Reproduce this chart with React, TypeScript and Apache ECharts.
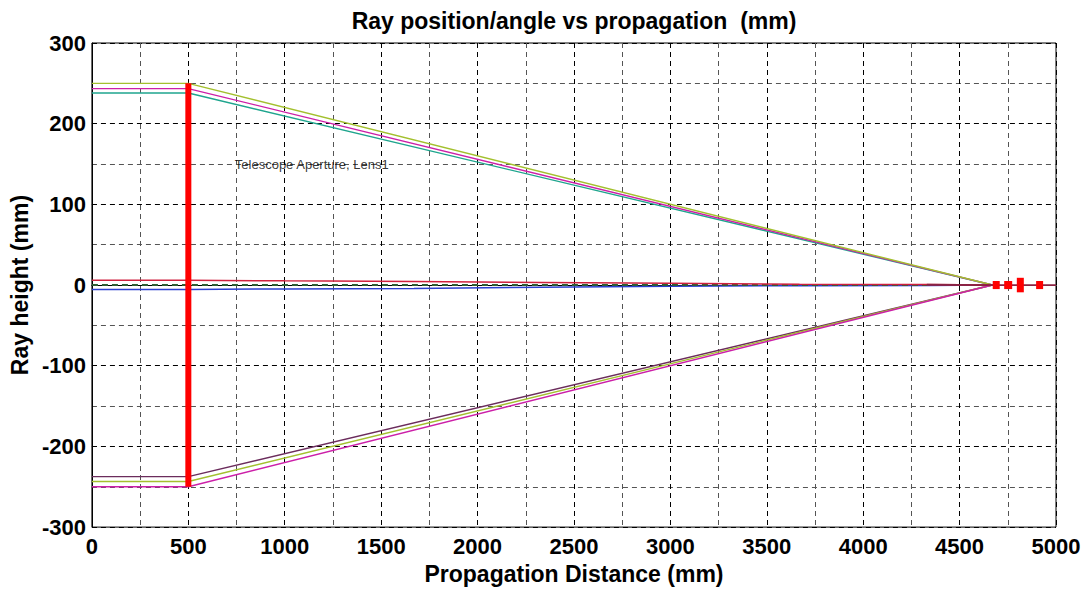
import React, { useEffect, useRef } from "react";
import * as echarts from "echarts";

// Ray traces: [distance (mm), height (mm)]
const topRayA: number[][] = [[0, 250], [500, 250], [4670, 0]];
const topRayB: number[][] = [[0, 243.5], [500, 243.5], [4670, 0]];
const topRayC: number[][] = [[0, 238], [500, 238], [4670, 0]];
const botRayA: number[][] = [[0, -237.5], [500, -237.5], [4670, 0]];
const botRayB: number[][] = [[0, -243.5], [500, -243.5], [4670, 0]];
const botRayC: number[][] = [[0, -250], [500, -250], [4670, 0]];
const axialRayRed: number[][] = [[0, 6], [500, 6], [1000, 5.2], [1670, 4.5], [2330, 3.3], [3000, 2.2], [3670, 0.9], [4330, 0.7], [4670, 0]];
const axialRayBlue: number[][] = [[0, -5.5], [500, -5.5], [1000, -4.8], [1670, -4.2], [2330, -2.6], [3000, -1.4], [3670, -0.8], [4330, -0.6], [4670, 0]];
const axialRayGreen: number[][] = [[0, 0], [4330, 0]];
const exitRay: number[][] = [[4330, 0.4], [4670, 0], [5000, 0]];

// Apertures: position (mm) and half height (mm)
const apertureX: number[] = [500, 4690, 4752, 4815, 4915];
const apertureHalf: number[] = [250, 5, 5, 9, 5];
const apertureWidth: number[] = [6, 7, 8, 7, 7];

const apertureLabel = "Telescope Aperture, Lens1";
const apertureLabelPos: number[] = [741, 150];

const FONT = "'Liberation Sans', Arial, sans-serif";

export default function App() {
  const ref = useRef<HTMLDivElement>(null);

  useEffect(() => {
    if (!ref.current) return;
    const chart = echarts.init(ref.current, undefined, { renderer: "svg" });

    const ray = (data: number[][], color: string, width = 1.4, type: any = "solid", z = 3) => ({
      type: "line",
      data,
      symbol: "none",
      silent: true,
      z,
      lineStyle: { color, width, type },
    });

    const apertures = apertureX.map((x, i) => ({
      type: "line",
      data: [[x, -apertureHalf[i]], [x, apertureHalf[i]]],
      symbol: "none",
      silent: true,
      z: 4,
      lineStyle: { color: "#ff0000", width: apertureWidth[i], cap: "butt" },
    }));

    chart.setOption({
      animation: false,
      backgroundColor: "#ffffff",
      title: {
        text: "Ray position/angle vs propagation  (mm)",
        left: 569,
        top: 4,
        textAlign: "center",
        textStyle: { fontFamily: FONT, fontSize: 23, fontWeight: "bold", color: "#000" },
      },
      grid: {
        left: 91,
        right: 33,
        top: 43,
        bottom: 61,
        show: true,
        borderColor: "#000",
        borderWidth: 1,
        backgroundColor: "transparent",
      },
      xAxis: {
        type: "value",
        min: 0,
        max: 5000,
        interval: 500,
        name: "Propagation Distance (mm)",
        nameLocation: "middle",
        nameGap: 31,
        nameTextStyle: { fontFamily: FONT, fontSize: 23, fontWeight: "bold", color: "#000" },
        axisLine: { show: true, lineStyle: { color: "#000", width: 1 } },
        axisTick: { show: true, inside: true, length: 5, lineStyle: { color: "#000" } },
        axisLabel: {
          fontFamily: FONT, fontSize: 22, fontWeight: "bold", color: "#000", margin: 8,
          formatter: (v: number) => String(v),
        },
        splitLine: { show: true, lineStyle: { color: "#000", type: [5, 4], width: 1 } },
        minorTick: { show: false, splitNumber: 2 },
        minorSplitLine: { show: true, lineStyle: { color: "#555", type: [5, 4], width: 1 } },
      },
      yAxis: {
        type: "value",
        min: -300,
        max: 300,
        interval: 100,
        name: "Ray height (mm)",
        nameLocation: "middle",
        nameGap: 60,
        nameTextStyle: { fontFamily: FONT, fontSize: 23, fontWeight: "bold", color: "#000" },
        axisLine: { show: true, lineStyle: { color: "#000", width: 1 } },
        axisTick: { show: true, inside: true, length: 5, lineStyle: { color: "#000" } },
        axisLabel: {
          fontFamily: FONT, fontSize: 22, fontWeight: "bold", color: "#000", margin: 6,
          formatter: (v: number) => String(v),
        },
        splitLine: { show: true, lineStyle: { color: "#000", type: [5, 4], width: 1 } },
        minorTick: { show: false, splitNumber: 2 },
        minorSplitLine: { show: true, lineStyle: { color: "#555", type: [5, 4], width: 1 } },
      },
      series: [
        ray(botRayA, "#6b2c5c"),
        ray(botRayB, "#a3c02e"),
        ray(botRayC, "#cc1fa8"),
        ray(topRayC, "#1fa58e"),
        ray(topRayB, "#cc1fa8"),
        ray(topRayA, "#a3c02e"),
        ray(axialRayBlue, "#2a3fd0", 1.5),
        ray(axialRayGreen, "#2e5e34", 2, [6, 4]),
        ray(axialRayRed, "#d0203e", 1.5),
        ray(exitRay, "#8b2342", 1.8),
        ...apertures,
        {
          type: "scatter",
          data: [apertureLabelPos],
          symbolSize: 0,
          silent: true,
          z: 2,
          label: {
            show: true,
            position: "right",
            distance: 0,
            formatter: apertureLabel,
            fontFamily: FONT,
            fontSize: 13,
            color: "#000",
          },
        },
      ],
    });

    return () => chart.dispose();
  }, []);

  return <div ref={ref} style={{ width: 1089, height: 590, position: "absolute", left: 0, top: 0 }} />;
}
